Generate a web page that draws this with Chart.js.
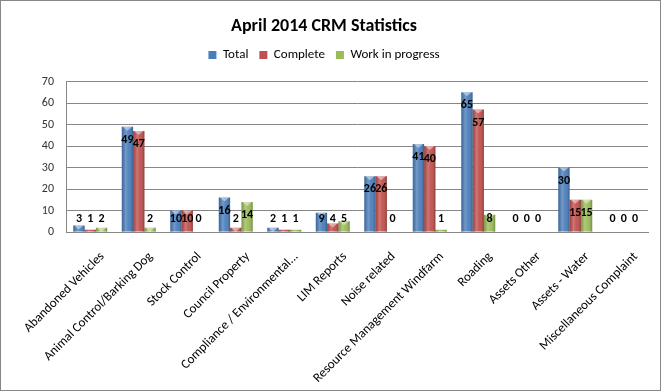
<!DOCTYPE html>
<html>
<head>
<meta charset="utf-8">
<script src="https://cdn.jsdelivr.net/npm/chart.js@4/dist/chart.umd.min.js"></script>
<style>
  html, body { margin: 0; padding: 0; background: #fff; }
  #wrap { width: 662px; height: 391px; }
</style>
</head>
<body>
<div id="wrap"><canvas id="crm" width="662" height="391"></canvas></div>
<script>
var categories = ['Abandoned Vehicles', 'Animal Control/Barking Dog', 'Stock Control', 'Council Property',
    'Compliance / Environmental...', 'LIM Reports', 'Noise related', 'Resource Management Windfarm',
    'Roading', 'Assets Other', 'Assets - Water', 'Miscellaneous Complaint'];
var total      = [3, 49, 10, 16, 2, 9, 26, 41, 65, 0, 30, 0];
var complete   = [1, 47, 10, 2, 1, 4, 26, 40, 57, 0, 15, 0];
var inProgress = [2, 2, 0, 14, 1, 5, 0, 1, 8, 0, 15, 0];

var FONT = 'Carlito, Calibri, Lato, sans-serif';

// shading + value labels, drawn from the bar elements
var barLook = {
    id: 'barLook',
    beforeInit: function(chart) {
        // extra room under the legend
        var fit = chart.legend.fit;
        chart.legend.fit = function() {
            fit.call(this);
            this.height += 10;
        };
    },
    afterDatasetsDraw: function(chart) {
        var ctx = chart.ctx;
        var base = chart.scales.y.getPixelForValue(0);
        chart.data.datasets.forEach(function(ds, i) {
            var meta = chart.getDatasetMeta(i);
            meta.data.forEach(function(bar, j) {
                var left = bar.x - bar.width / 2;
                var h = base - bar.y;
                if (h > 0.5) {
                    var g = ctx.createLinearGradient(left, 0, left + bar.width, 0);
                    g.addColorStop(0, 'rgba(0,0,0,0.18)');
                    g.addColorStop(0.35, 'rgba(255,255,255,0.22)');
                    g.addColorStop(0.6, 'rgba(255,255,255,0.05)');
                    g.addColorStop(1, 'rgba(0,0,0,0.25)');
                    ctx.fillStyle = g;
                    ctx.fillRect(left, bar.y, bar.width, h);
                    if (h > 4) {
                        ctx.fillStyle = 'rgba(255,255,255,0.45)';
                        ctx.beginPath();
                        ctx.moveTo(left + 1, bar.y);
                        ctx.lineTo(left + bar.width - 1, bar.y);
                        ctx.lineTo(bar.x, bar.y + 4);
                        ctx.closePath();
                        ctx.fill();
                    }
                }
                ctx.save();
                ctx.fillStyle = '#000';
                ctx.font = 'bold 12px ' + FONT;
                ctx.textAlign = 'center';
                ctx.textBaseline = 'middle';
                var y = Math.min(bar.y + 13, base - 13);
                ctx.fillText(String(ds.data[j]), bar.x, y);
                ctx.restore();
            });
        });
    },
    afterDraw: function(chart) {
        var ctx = chart.ctx;
        ctx.save();
        ctx.strokeStyle = '#878787';
        ctx.lineWidth = 1;
        ctx.strokeRect(0.5, 0.5, chart.width - 2, chart.height - 1);
        ctx.restore();
    }
};

new Chart(document.getElementById('crm'), {
    type: 'bar',
    data: {
        labels: categories,
        datasets: [
            { label: 'Total', data: total, backgroundColor: '#4a7ebb', borderWidth: 0 },
            { label: 'Complete', data: complete, backgroundColor: '#c0504d', borderWidth: 0 },
            { label: 'Work in progress', data: inProgress, backgroundColor: '#9bbb59', borderWidth: 0 }
        ]
    },
    options: {
        responsive: false,
        animation: false,
        layout: { padding: { left: 0, right: 14, top: 0, bottom: 0 } },
        datasets: { bar: { categoryPercentage: 0.7, barPercentage: 1.0 } },
        plugins: {
            title: {
                display: true,
                text: 'April 2014 CRM Statistics',
                color: '#000',
                font: { family: FONT, size: 18, weight: 'bold' },
                padding: { top: 16, bottom: 0 }
            },
            legend: {
                display: true,
                labels: {
                    color: '#000',
                    font: { family: FONT, size: 13 },
                    boxWidth: 8,
                    boxHeight: 8,
                    padding: 11
                }
            },
            tooltip: { enabled: false }
        },
        scales: {
            x: {
                grid: { display: false, drawTicks: false },
                border: { color: '#878787' },
                ticks: {
                    autoSkip: false,
                    minRotation: 45,
                    maxRotation: 45,
                    color: '#000',
                    padding: 17,
                    labelOffset: 12,
                    font: { family: FONT, size: 13 }
                },
                afterFit: function(s) {
                    s.height = 159;
                    s.paddingLeft = 0;
                    s.paddingRight = 0;
                }
            },
            y: {
                min: 0,
                max: 70,
                ticks: {
                    stepSize: 10,
                    color: '#333',
                    padding: 12,
                    font: { family: FONT, size: 12 }
                },
                grid: { color: '#878787', drawTicks: false },
                border: { color: '#878787' },
                afterFit: function(s) { s.width = 66; }
            }
        }
    },
    plugins: [barLook]
});
</script>
</body>
</html>
